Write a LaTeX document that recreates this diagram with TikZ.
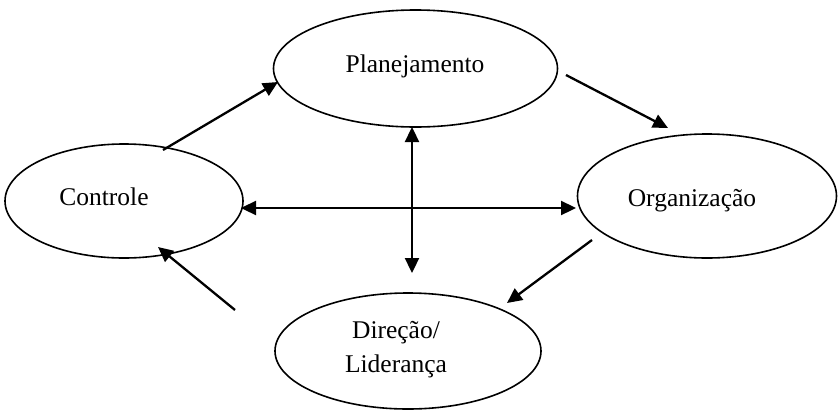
\documentclass[tikz,border=0pt]{standalone}
\usepackage{fontspec}
\setmainfont{Liberation Serif}
\usetikzlibrary{shapes.geometric,arrows.meta}
\begin{document}
\begin{tikzpicture}[x=1pt,y=-1pt,
  oval/.style={draw,ellipse,line width=1.6pt,inner sep=0pt},
  lbl/.style={font=\fontsize{25.5}{34}\selectfont,align=center,inner sep=0pt},
  arr/.style={line width=2.3pt,-{Triangle[length=15pt,width=14pt]}},
  darr/.style={line width=2.3pt,{Triangle[length=15pt,width=14pt]}-{Triangle[length=15pt,width=14pt]}}]
\useasboundingbox (0,0) rectangle (838,410);
\node[oval,minimum width=284pt,minimum height=117pt] (P) at (415.5,68.5) {};
\node[oval,minimum width=238pt,minimum height=114pt] (C) at (124,201) {};
\node[oval,minimum width=259pt,minimum height=124pt] (O) at (707,196) {};
\node[oval,minimum width=266pt,minimum height=116pt] (D) at (408,351) {};
\node[lbl,anchor=base] (Pt) at (415,72) {Planejamento};
\node[lbl,anchor=base] (Ct) at (104,205) {Controle};
\node[lbl,anchor=base] (Ot) at (692,206) {Organização};
\node[lbl,anchor=base] (Dt) at (396,372) {Direção/\\Liderança};
\coordinate (a1) at (163,150); \coordinate (a2) at (278,82);
\coordinate (b1) at (566,75);  \coordinate (b2) at (668,128);
\coordinate (c1) at (592,240); \coordinate (c2) at (507,303);
\coordinate (d1) at (235,310); \coordinate (d2) at (158,247);
\coordinate (h1) at (241,208); \coordinate (h2) at (576,208);
\coordinate (v1) at (412,127); \coordinate (v2) at (412,273);
\draw[arr] (a1) -- (a2);
\draw[arr] (b1) -- (b2);
\draw[arr] (c1) -- (c2);
\draw[arr] (d1) -- (d2);
\draw[darr] (h1) -- (h2);
\draw[darr] (v1) -- (v2);
\end{tikzpicture}
\end{document}
